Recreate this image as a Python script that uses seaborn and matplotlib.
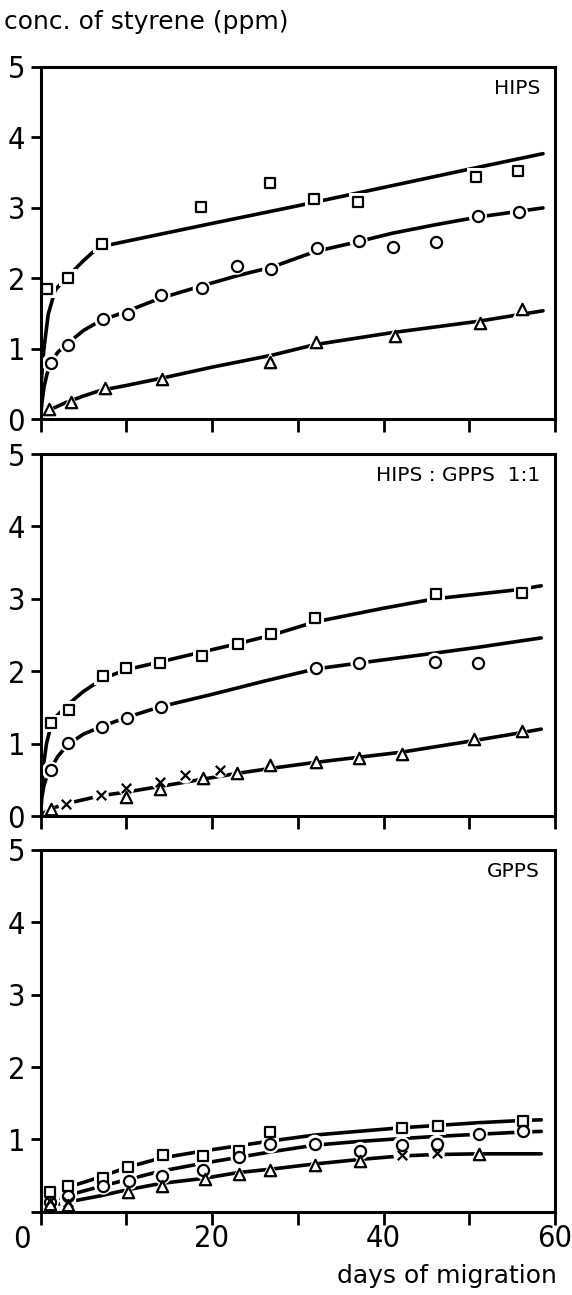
import os
import matplotlib
matplotlib.use("Agg")
import matplotlib.pyplot as plt
from matplotlib import font_manager
from matplotlib.font_manager import FontProperties
import seaborn as sns
import pandas as pd

# ---------------- data ----------------
x_ticks = [0, 10, 20, 30, 40, 50, 60]
x_ticklabels = ["", "", "20", "", "40", "", "60"]
y_ticks = [0, 1, 2, 3, 4, 5]
y_ticklabels = ["0", "1", "2", "3", "4", "5"]
y_ticklabels_bottom = ["", "1", "2", "3", "4", "5"]
panel_titles = ["HIPS", "HIPS : GPPS  1:1", "GPPS"]
ylabel_text = "conc. of styrene (ppm)"
xlabel_text = "days of migration"

# Panel 1: HIPS - measured points
hips_sq_day = [0.8, 3.2, 7.2, 18.7, 26.8, 31.9, 37.0, 50.8, 55.7]
hips_sq_val = [1.85, 2.01, 2.49, 3.01, 3.35, 3.13, 3.09, 3.44, 3.52]
hips_ci_day = [1.2, 3.2, 7.3, 10.2, 14.1, 18.8, 22.9, 26.9, 32.2, 37.1, 41.1, 46.1, 51.0, 55.8]
hips_ci_val = [0.80, 1.06, 1.42, 1.50, 1.76, 1.86, 2.18, 2.13, 2.43, 2.53, 2.44, 2.51, 2.88, 2.94]
hips_tr_day = [1.0, 3.6, 7.5, 14.2, 26.8, 32.1, 41.3, 51.2, 56.1]
hips_tr_val = [0.15, 0.25, 0.45, 0.57, 0.82, 1.09, 1.18, 1.36, 1.56]
# Panel 1: fitted curves
hips_sq_fit_day = [0, 0.1, 0.4, 0.9, 1.7, 2.7, 3.2, 5.0, 6.0, 7.0, 20, 30, 40, 50, 58.6]
hips_sq_fit_val = [0, 0.55, 1.0, 1.49, 1.83, 1.97, 2.03, 2.25, 2.36, 2.45, 2.78, 3.03, 3.29, 3.55, 3.77]
hips_ci_fit_day = [0, 0.15, 0.4, 0.75, 1.2, 2.0, 3.2, 5.0, 7.0, 10, 14, 19, 23, 27, 32, 37, 41, 46, 51, 58.6]
hips_ci_fit_val = [0, 0.22, 0.45, 0.64, 0.80, 0.95, 1.08, 1.26, 1.40, 1.53, 1.72, 1.90, 2.04, 2.16, 2.38, 2.52, 2.64, 2.76, 2.87, 3.0]
hips_tr_fit_day = [0, 0.5, 1, 3, 5, 7, 10, 14, 20, 27, 32, 41, 51, 58.6]
hips_tr_fit_val = [0, 0.08, 0.13, 0.24, 0.33, 0.41, 0.48, 0.58, 0.74, 0.91, 1.06, 1.23, 1.39, 1.54]

# Panel 2: HIPS:GPPS 1:1 - measured points
mix_sq_day = [1.2, 3.3, 7.3, 10.0, 13.9, 18.8, 23.0, 26.9, 32.0, 46.1, 56.2]
mix_sq_val = [1.28, 1.47, 1.93, 2.05, 2.11, 2.21, 2.38, 2.51, 2.74, 3.07, 3.08]
mix_ci_day = [1.2, 3.2, 7.2, 10.1, 14.1, 32.1, 37.2, 46.0, 51.0]
mix_ci_val = [0.63, 1.01, 1.23, 1.35, 1.51, 2.04, 2.11, 2.13, 2.12]
mix_tr_day = [1.2, 10.0, 13.9, 18.9, 22.9, 26.8, 32.1, 37.1, 42.1, 50.6, 56.2]
mix_tr_val = [0.10, 0.26, 0.37, 0.52, 0.60, 0.70, 0.74, 0.80, 0.86, 1.07, 1.17]
mix_x_day = [3.0, 7.0, 10.0, 13.9, 16.9, 20.9]
mix_x_val = [0.17, 0.29, 0.39, 0.47, 0.56, 0.64]
# Panel 2: fitted curves
mix_sq_fit_day = [0, 0.1, 0.3, 0.7, 1.2, 1.7, 3.3, 5.0, 7.3, 10, 14, 19, 23, 27, 32, 40, 46, 56, 58.4]
mix_sq_fit_val = [0, 0.35, 0.66, 1.0, 1.24, 1.36, 1.55, 1.72, 1.90, 2.02, 2.13, 2.27, 2.38, 2.50, 2.68, 2.87, 3.0, 3.13, 3.18]
mix_ci_fit_day = [0, 0.15, 0.4, 0.7, 1.2, 2.0, 3.2, 5.0, 7.2, 10, 14, 20, 26, 32, 37, 46, 51, 58.4]
mix_ci_fit_val = [0, 0.25, 0.42, 0.53, 0.65, 0.82, 0.99, 1.13, 1.24, 1.36, 1.51, 1.68, 1.86, 2.03, 2.11, 2.25, 2.33, 2.46]
mix_tr_fit_day = [0, 0.5, 1.2, 3, 7, 10, 14, 19, 23, 27, 32, 37, 42, 51, 56, 58.4]
mix_tr_fit_val = [0, 0.05, 0.10, 0.17, 0.28, 0.33, 0.41, 0.51, 0.59, 0.66, 0.74, 0.81, 0.88, 1.05, 1.15, 1.20]

# Panel 3: GPPS - measured points
gpps_sq_day = [1.1, 3.2, 7.3, 10.2, 14.3, 19.0, 23.2, 26.8, 42.1, 46.3, 56.3]
gpps_sq_val = [0.27, 0.35, 0.47, 0.62, 0.78, 0.77, 0.84, 1.10, 1.16, 1.18, 1.26]
gpps_ci_day = [1.1, 3.2, 7.3, 10.3, 14.2, 19.0, 23.2, 26.8, 32.0, 37.3, 42.1, 46.2, 51.1, 56.3]
gpps_ci_val = [0.14, 0.22, 0.36, 0.42, 0.50, 0.57, 0.76, 0.93, 0.94, 0.84, 0.92, 0.94, 1.08, 1.11]
gpps_tr_day = [1.1, 3.2, 10.2, 14.2, 19.2, 23.2, 26.8, 32.0, 37.3, 51.1]
gpps_tr_val = [0.11, 0.09, 0.27, 0.36, 0.45, 0.52, 0.58, 0.64, 0.70, 0.80]
gpps_x_day = [1.1, 3.2, 42.1, 46.2]
gpps_x_val = [0.15, 0.14, 0.79, 0.81]
# Panel 3: fitted curves
gpps_sq_fit_day = [1, 3, 7, 10, 14, 19, 23, 27, 32, 37, 42, 46, 51, 56, 58.4]
gpps_sq_fit_val = [0.24, 0.33, 0.48, 0.61, 0.74, 0.84, 0.91, 0.98, 1.06, 1.11, 1.16, 1.19, 1.23, 1.26, 1.27]
gpps_ci_fit_day = [1, 3, 7, 10, 14, 19, 23, 27, 32, 37, 42, 46, 51, 56, 58.4]
gpps_ci_fit_val = [0.15, 0.22, 0.35, 0.44, 0.56, 0.67, 0.75, 0.83, 0.92, 0.97, 1.01, 1.04, 1.07, 1.10, 1.11]
gpps_tr_fit_day = [1, 3, 7, 10, 14, 19, 23, 27, 32, 37, 42, 46, 51, 56, 58.4]
gpps_tr_fit_val = [0.08, 0.13, 0.22, 0.30, 0.39, 0.46, 0.54, 0.59, 0.66, 0.72, 0.77, 0.79, 0.80, 0.80, 0.80]

# ---------------- styling ----------------
sns.set_theme(style="ticks")
plt.rcParams["font.family"] = ["DejaVu Sans"]


def find_narrow_font():
    flist = font_manager.fontManager.ttflist
    for f in flist:
        if f.name == "Liberation Sans Narrow" and f.weight in (400, "normal", "regular") and f.style == "normal":
            return FontProperties(fname=f.fname), True
    for f in flist:
        base = os.path.basename(f.fname).lower()
        if "condensed" in base and "bold" not in base and "oblique" not in base and "italic" not in base:
            if "dejavusans" in base and "mono" not in base:
                return FontProperties(fname=f.fname), True
    for f in flist:
        base = os.path.basename(f.fname).lower()
        if ("narrow" in base or "condensed" in base) and "bold" not in base and "italic" not in base \
                and "oblique" not in base and "mono" not in base:
            return FontProperties(fname=f.fname), True
    for fam in ["Roboto", "Liberation Sans"]:
        try:
            p = font_manager.findfont(FontProperties(family=fam), fallback_to_default=False)
            return FontProperties(fname=p), False
        except Exception:
            pass
    return FontProperties(family="DejaVu Sans"), False


num_fp, is_narrow = find_narrow_font()
num_size = 22 if is_narrow else 21
txt_font = "DejaVu Sans"

W, H = 572, 1295
fig = plt.figure(figsize=(W / 100, H / 100), dpi=100)
fig.patch.set_facecolor("white")

left_px, right_px = 40.5, 555.0
panel_px = [(67.0, 419.3), (454.0, 816.0), (850.0, 1211.7)]
axes = []
for top, bot in panel_px:
    ax = fig.add_axes([left_px / W, 1 - bot / H, (right_px - left_px) / W, (bot - top) / H])
    axes.append(ax)

panels = [
    [
        ("s", hips_sq_day, hips_sq_val, hips_sq_fit_day, hips_sq_fit_val),
        ("o", hips_ci_day, hips_ci_val, hips_ci_fit_day, hips_ci_fit_val),
        ("^", hips_tr_day, hips_tr_val, hips_tr_fit_day, hips_tr_fit_val),
    ],
    [
        ("s", mix_sq_day, mix_sq_val, mix_sq_fit_day, mix_sq_fit_val),
        ("o", mix_ci_day, mix_ci_val, mix_ci_fit_day, mix_ci_fit_val),
        ("^", mix_tr_day, mix_tr_val, mix_tr_fit_day, mix_tr_fit_val),
        ("x", mix_x_day, mix_x_val, None, None),
    ],
    [
        ("s", gpps_sq_day, gpps_sq_val, gpps_sq_fit_day, gpps_sq_fit_val),
        ("o", gpps_ci_day, gpps_ci_val, gpps_ci_fit_day, gpps_ci_fit_val),
        ("^", gpps_tr_day, gpps_tr_val, gpps_tr_fit_day, gpps_tr_fit_val),
        ("x", gpps_x_day, gpps_x_val, None, None),
    ],
]

marker_pt = {"s": 7.6, "o": 8.0, "^": 8.2, "x": 6.8}

for i, (ax, series) in enumerate(zip(axes, panels)):
    for m, d, v, fd, fv in series:
        if fd is None:
            continue
        df_fit = pd.DataFrame({"day": fd, "val": fv})
        sns.lineplot(data=df_fit, x="day", y="val", ax=ax, color="black",
                     linewidth=2.6, sort=False, estimator=None, zorder=2)
    for m, d, v, fd, fv in series:
        df = pd.DataFrame({"day": d, "val": v})
        hm = "o" if m == "x" else m
        sns.scatterplot(data=df, x="day", y="val", ax=ax, marker=hm,
                        s=(marker_pt[m] + 5) ** 2, color="white",
                        edgecolor="none", linewidth=0, zorder=3)
    for m, d, v, fd, fv in series:
        df = pd.DataFrame({"day": d, "val": v})
        if m == "x":
            sns.scatterplot(data=df, x="day", y="val", ax=ax, marker="x",
                            s=marker_pt[m] ** 2, color="black",
                            linewidth=1.6, zorder=4)
        else:
            sns.scatterplot(data=df, x="day", y="val", ax=ax, marker=m,
                            s=marker_pt[m] ** 2, color="white",
                            edgecolor="black", linewidth=1.6, zorder=4)

    ax.set_xlim(0, 60)
    ax.set_ylim(0, 5)
    ax.set_xlabel("")
    ax.set_ylabel("")
    ax.set_xticks(x_ticks)
    ax.set_yticks(y_ticks)
    if i == 2:
        ax.set_xticklabels(x_ticklabels)
        ax.set_yticklabels(y_ticklabels_bottom)
    else:
        ax.set_xticklabels([""] * len(x_ticks))
        ax.set_yticklabels(y_ticklabels)
    for sp in ax.spines.values():
        sp.set_visible(True)
        sp.set_linewidth(2.2)
        sp.set_color("black")
        sp.set_zorder(6)
    ax.tick_params(axis="y", direction="out", length=7.5, width=2.0, pad=3.5,
                   colors="black", left=True, right=False)
    ax.tick_params(axis="x", direction="out", length=9.0, width=2.0, pad=0,
                   colors="black", bottom=True, top=False)
    for lbl in ax.get_xticklabels() + ax.get_yticklabels():
        lbl.set_fontproperties(num_fp)
        lbl.set_fontsize(num_size)
    ax.set_facecolor("white")
    ax.annotate(panel_titles[i], xy=(1, 1), xycoords="axes fraction",
                xytext=(-15, -12), textcoords="offset pixels",
                ha="right", va="top", fontsize=14.5, family=txt_font, color="black")

zero_fp = num_fp.copy()
zero_fp.set_size(num_size)
axes[2].annotate("0", xy=(0, 0), xycoords=("data", "axes fraction"),
                 xytext=(-19, -13), textcoords="offset pixels",
                 ha="center", va="top", fontproperties=zero_fp, color="black")

fig.text(3.5 / W, 1 - 29 / H, ylabel_text, ha="left", va="baseline",
         fontsize=18, family=txt_font, color="black")
fig.text(557 / W, 1 - 1283 / H, xlabel_text, ha="right", va="baseline",
         fontsize=18, family=txt_font, color="black")

fig.savefig("out.png", dpi=100, facecolor="white")
